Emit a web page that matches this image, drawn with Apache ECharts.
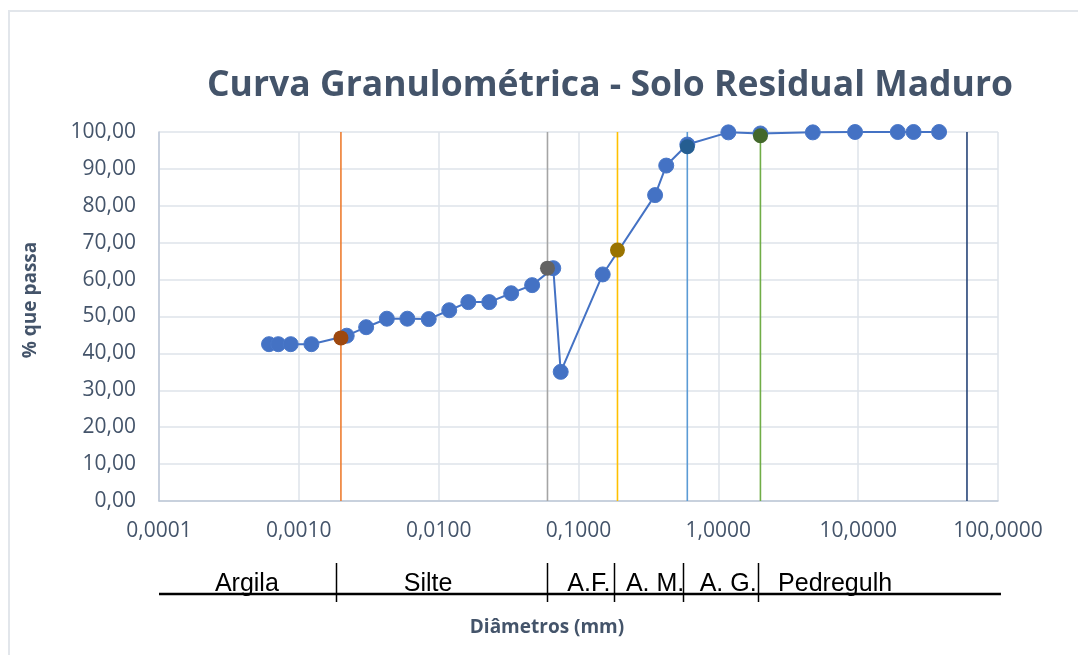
<!DOCTYPE html>
<html><head><meta charset="utf-8">
<script src="https://cdn.jsdelivr.net/npm/echarts@6/dist/echarts.min.js"></script>
<style>html,body{margin:0;padding:0;background:#fff}#c{width:1078px;height:655px}</style>
</head><body><div id="c"></div>
<script>
// Granulometric curve data (diameter in mm, % passing)
const diameters = [0.000612, 0.000713, 0.000875, 0.00123, 0.0022, 0.00303, 0.00426, 0.00597, 0.00849, 0.0119, 0.0163, 0.0230, 0.0330, 0.0466, 0.066, 0.0746, 0.149, 0.353, 0.424, 0.6, 1.18, 2.0, 4.74, 9.5, 19.2, 24.9, 37.9];
const percentPassing = [42.5, 42.5, 42.5, 42.5, 44.8, 47.1, 49.4, 49.4, 49.3, 51.7, 53.9, 53.9, 56.3, 58.5, 63.1, 35.0, 61.4, 82.9, 90.9, 96.6, 99.9, 99.6, 99.9, 100, 100, 100, 100];

// Fraction boundaries (vertical lines) and curve intersection points
const boundaryDiameters = [0.002, 0.06, 0.19, 0.6, 2.0, 60];
const boundaryColors = ['#ED7D31', '#A5A5A5', '#FFC000', '#5B9BD5', '#70AD47', '#264478'];
const boundaryPointPercents = [44.2, 63.1, 68.0, 96.0, 99.0];
const boundaryPointColors = ['#9E480E', '#636363', '#997300', '#255E91', '#43682B'];

// Fraction scale under the axis
const fractionNames = ['Argila', 'Silte', 'A.F.', 'A. M.', 'A. G.', 'Pedregulh'];
const fractionLabelDiameters = [0.000425, 0.0084, 0.1186, 0.353, 1.175, 6.84];
const fractionSeparatorDiameters = [0.00184, 0.0593, 0.180, 0.562, 1.92];
const fractionLineExtent = [0.0001, 105];

const yTicks = [0, 100, 10];

const chart = echarts.init(document.getElementById('c'), null, {renderer: 'canvas'});
const labelColor = '#44546A';
const FONT = '"Open Sans", sans-serif';

const series = [];
boundaryDiameters.forEach((d, i) => {
  series.push({
    type: 'line', name: 'limite ' + d, data: [[d, 0], [d, 100]],
    symbol: 'none', silent: true, z: 2,
    lineStyle: {color: boundaryColors[i], width: 1.6}
  });
});
series.push({
  type: 'line', name: 'Curva', z: 3,
  data: diameters.map((d, i) => [d, percentPassing[i]]),
  symbol: 'circle', symbolSize: 15,
  itemStyle: {color: '#4472C4', borderColor: '#4a78c9', borderWidth: 1},
  lineStyle: {color: '#4472C4', width: 2}
});
boundaryPointPercents.forEach((p, i) => {
  series.push({
    type: 'scatter', name: 'ponto ' + i, z: 4,
    data: [[boundaryDiameters[i], p]],
    symbol: 'circle', symbolSize: 15,
    itemStyle: {color: boundaryPointColors[i], opacity: 1}
  });
});

chart.setOption({
  animation: false,
  backgroundColor: '#fff',
  title: {
    text: 'Curva Granulométrica - Solo Residual Maduro',
    left: 202, top: 63,
    textStyle: {fontFamily: FONT, fontWeight: 'bold', fontSize: 35.5, color: labelColor}
  },
  grid: {left: 159, right: 80, top: 132, bottom: 154, containLabel: false},
  xAxis: {
    type: 'log', logBase: 10, min: 0.0001, max: 100, splitNumber: 6,
    axisLine: {show: true, lineStyle: {color: '#BFC9D8', width: 1.5}},
    axisTick: {show: false},
    splitLine: {show: true, lineStyle: {color: '#DEE3EA', width: 1.5}},
    axisLabel: {
      margin: 20, color: labelColor, fontFamily: FONT, fontSize: 21,
      formatter: v => v.toFixed(4).replace('.', ',')
    }
  },
  yAxis: {
    type: 'value', min: yTicks[0], max: yTicks[1], interval: yTicks[2],
    axisLine: {show: true, lineStyle: {color: '#BFC9D8', width: 1.5}},
    axisTick: {show: false},
    splitLine: {show: true, lineStyle: {color: '#DEE3EA', width: 1.5}},
    axisLabel: {
      margin: 23, color: labelColor, fontFamily: FONT, fontSize: 21,
      formatter: v => v.toFixed(2).replace('.', ',')
    }
  },
  series: series
});

// Build annotation under the axis from data positions
const px = d => chart.convertToPixel({gridIndex: 0}, [d, 0])[0];
const lineY = 594;
const graphic = [
  {type: 'rect', shape: {x: 9, y: 11, width: 1200, height: 800}, style: {fill: 'none', stroke: '#E2E6EB', lineWidth: 2}, silent: true},
  {type: 'text', x: 31, y: 300, rotation: Math.PI / 2, style: {text: '% que passa', fill: labelColor, font: 'bold 19px "Open Sans", sans-serif', textAlign: 'center', textVerticalAlign: 'middle'}},
  {type: 'text', x: 547, y: 628, style: {text: 'Diâmetros (mm)', fill: labelColor, font: 'bold 19px "Open Sans", sans-serif', textAlign: 'center', textVerticalAlign: 'middle'}}
];
fractionNames.forEach((n, i) => {
  graphic.push({type: 'text', x: px(fractionLabelDiameters[i]), y: 584.5, z: 10,
    style: {text: n, fill: '#000', font: '25px "Liberation Sans", Arial, sans-serif', textAlign: 'center', textVerticalAlign: 'middle'}});
});
graphic.push({type: 'line', z: 11, shape: {x1: px(fractionLineExtent[0]), y1: lineY, x2: px(fractionLineExtent[1]), y2: lineY}, style: {stroke: '#000', lineWidth: 2.5}});
fractionSeparatorDiameters.forEach(d => {
  const x = Math.round(px(d)) + 0.5;
  graphic.push({type: 'line', z: 11, shape: {x1: x, y1: 563, x2: x, y2: 602}, style: {stroke: '#000', lineWidth: 1.5}});
});
chart.setOption({graphic: graphic});
</script>
</body></html>
